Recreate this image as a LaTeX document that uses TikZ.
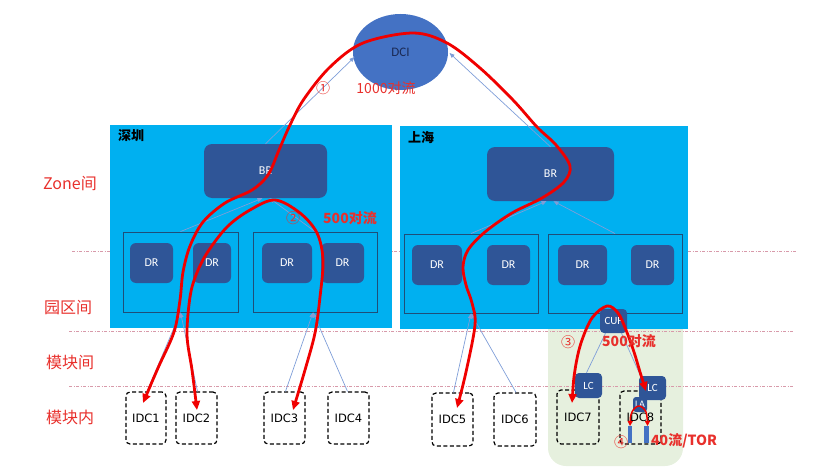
\documentclass[tikz,border=0pt]{standalone}
\usepackage{fontspec}
\setmainfont{Carlito}
\newfontfamily\cjk{Noto Sans CJK SC}
\newfontfamily\dvs{DejaVu Sans}
\usetikzlibrary{arrows.meta,shapes.geometric}
\definecolor{zoneblue}{HTML}{00B0F0}
\definecolor{darkbox}{HTML}{2F5597}
\definecolor{dciblue}{HTML}{4472C4}
\definecolor{subline}{HTML}{1F4E79}
\definecolor{greenbg}{HTML}{E6F0DE}
\definecolor{thinblue}{HTML}{7F9ED8}
\definecolor{flowred}{HTML}{F00000}
\definecolor{labelred}{HTML}{E8302C}
\definecolor{sepline}{HTML}{D89AAA}
\definecolor{navytext}{HTML}{1B2A55}
\begin{document}
\begin{tikzpicture}[x=1pt,y=-1pt,
 zonebox/.style={fill=zoneblue, inner sep=0},
 subbox/.style={draw=subline, line width=0.9pt, inner sep=0},
 router/.style={fill=darkbox, rounded corners=8pt, text=white, inner sep=0, font=\fontsize{12}{14}\selectfont},
 smallrouter/.style={fill=darkbox, rounded corners=4pt, text=white, inner sep=0, font=\fontsize{11}{13}\selectfont},
 idc/.style={draw=black, dash pattern=on 4pt off 2.5pt, line width=1.2pt, rounded corners=4pt, inner sep=0, font=\dvs\fontsize{11.5}{14}\selectfont},
 link/.style={draw=thinblue, line width=0.7pt, -{Triangle[length=5pt,width=4pt]}},
 plainlink/.style={draw=thinblue, line width=0.7pt},
 flow/.style={draw=flowred, line width=2.8pt, {Triangle[length=9pt,width=8pt]}-{Triangle[length=9pt,width=8pt]}},
 smallflow/.style={draw=flowred, line width=1.5pt, {Triangle[length=5pt,width=5pt]}-{Triangle[length=5pt,width=5pt]}},
 lbl/.style={text=labelred, inner sep=0, font=\cjk\fontsize{16}{18}\selectfont},
 flbl/.style={text=labelred, inner sep=0, font=\cjk\fontsize{14}{16}\selectfont},
 bflbl/.style={text=labelred, inner sep=0, font=\cjk\bfseries\fontsize{14}{16}\selectfont},
 zonelbl/.style={text=black, inner sep=0, font=\cjk\bfseries\fontsize{13}{15}\selectfont},
 sep/.style={draw=sepline, line width=0.8pt, dash pattern=on 3pt off 1.5pt on 1pt off 1.5pt},
 bar/.style={fill=dciblue, inner sep=0, minimum width=4.5pt, minimum height=17pt},
]
\useasboundingbox (0,0) rectangle (832,476);
% green module area
\node[fill=greenbg, rounded corners=18pt, inner sep=0, minimum width=135pt, minimum height=170pt] (green) at (615.5,381) {};
% separator lines
\coordinate (s1a) at (72,251); \coordinate (s1b) at (797,251);
\coordinate (s2a) at (69,331); \coordinate (s2b) at (793,331);
\coordinate (s3a) at (69,386); \coordinate (s3b) at (793,386);
\draw[sep] (s1a) -- (s1b);
\draw[sep] (s2a) -- (s2b);
\draw[sep] (s3a) -- (s3b);
% zones
\node[zonebox, minimum width=282pt, minimum height=203pt] (sz) at (251,226.5) {};
\node[zonebox, minimum width=288pt, minimum height=203pt] (sh) at (544,227.5) {};
\node[zonelbl] (szl) at (131,136) {深圳};
\node[zonelbl] (shlbl) at (421,138) {上海};
% BR
\node[router, minimum width=123pt, minimum height=54pt] (brsz) at (265.5,171) {BR};
\node[router, minimum width=127pt, minimum height=54pt] (brsh) at (550.5,174) {BR};
% sub boxes
\node[subbox, minimum width=115pt, minimum height=80pt] (szA) at (180.5,272) {};
\node[subbox, minimum width=124pt, minimum height=80pt] (szB) at (315,272) {};
\node[subbox, minimum width=134pt, minimum height=79pt] (shA) at (471,273.5) {};
\node[subbox, minimum width=134pt, minimum height=79pt] (shB) at (615,273.5) {};
% DR
\node[router, rounded corners=6pt, minimum width=43pt, minimum height=40pt] (dr1) at (151.5,263) {DR};
\node[router, rounded corners=6pt, minimum width=38pt, minimum height=40pt] (dr2) at (212,263) {DR};
\node[router, rounded corners=6pt, minimum width=50pt, minimum height=40pt] (dr3) at (287,263) {DR};
\node[router, rounded corners=6pt, minimum width=43pt, minimum height=40pt] (dr4) at (342.5,263) {DR};
\node[router, rounded corners=6pt, minimum width=50pt, minimum height=40pt] (dr5) at (437,265) {DR};
\node[router, rounded corners=6pt, minimum width=43pt, minimum height=40pt] (dr6) at (508.5,265) {DR};
\node[router, rounded corners=6pt, minimum width=49pt, minimum height=40pt] (dr7) at (582.5,265) {DR};
\node[router, rounded corners=6pt, minimum width=43pt, minimum height=40pt] (dr8) at (652.5,265) {DR};
% DCI
\node[ellipse, fill=dciblue, inner sep=0, minimum width=95pt, minimum height=76pt, text=navytext, font=\fontsize{13}{15}\selectfont] (dci) at (400.5,52) {DCI};
% IDC boxes
\node[idc, minimum width=40pt, minimum height=52pt] (idc1) at (146,418) {IDC1};
\node[idc, minimum width=41pt, minimum height=52pt] (idc2) at (196.5,418) {IDC2};
\node[idc, minimum width=41pt, minimum height=52pt] (idc3) at (284.5,418) {IDC3};
\node[idc, minimum width=41pt, minimum height=52pt] (idc4) at (348.5,418) {IDC4};
\node[idc, minimum width=41pt, minimum height=53pt] (idc5) at (452.5,419.5) {IDC5};
\node[idc, minimum width=42pt, minimum height=53pt] (idc6) at (515,419.5) {IDC6};
\node[idc, minimum width=42pt, minimum height=54pt] (idc7) at (578,417) {IDC7};
\node[idc, minimum width=41pt, minimum height=53pt] (idc8) at (640.5,417.5) {IDC8};
% CUF, LC, LA
\node[smallrouter, minimum width=27pt, minimum height=24pt] (cuf) at (613.5,321) {CUF};
\node[smallrouter, minimum width=27pt, minimum height=25pt] (lc1) at (588.5,385.5) {LC};
\node[smallrouter, minimum width=27pt, minimum height=24pt] (lc2) at (652.5,388) {LC};
\node[smallrouter, rounded corners=3pt, minimum width=14pt, minimum height=15pt, font=\fontsize{10}{12}\selectfont] (la) at (640,404.5) {LA};
\node[bar] (bar1) at (629.8,434.5) {};
\node[bar] (bar2) at (646.5,434.5) {};
% thin links
\draw[link] (brsz.north) -- ([xshift=-46pt,yshift=-5pt]dci.center);
\draw[link] (brsh.north) -- ([xshift=49pt,yshift=-1pt]dci.center);
\draw[link] (szA.north) -- ([xshift=-3pt]brsz.south);
\draw[link] (szB.north) -- ([xshift=4pt]brsz.south);
\draw[link] (shA.north) -- ([xshift=-4pt]brsh.south);
\draw[link] (shB.north) -- ([xshift=3pt]brsh.south);
\draw[link] ([xshift=1pt]idc1.north) -- (szA.south);
\draw[link] ([xshift=1pt]idc2.north) -- (szA.south);
\draw[link] ([xshift=1pt]idc3.north) -- ([xshift=-2pt]szB.south);
\draw[link] ([xshift=-1pt]idc4.north) -- ([xshift=-2pt]szB.south);
\draw[link] ([xshift=1pt]idc5.north) -- (shA.south);
\draw[link] ([xshift=1pt]idc6.north) -- (shA.south);
\draw[plainlink] ([xshift=-2pt]lc1.north) -- ([xshift=-8pt]cuf.south);
\draw[plainlink] ([xshift=-12pt]lc2.north) -- ([xshift=8pt]cuf.south);
% red flows
\coordinate (f1a) at (143,403); \coordinate (f1b) at (457,408);
\coordinate (f2a) at (197,410); \coordinate (f2b) at (293,410);
\coordinate (f3a) at (572,403); \coordinate (f3b) at (646,391);
\coordinate (f4a) at (630,426); \coordinate (f4b) at (647.5,426);
\draw[flow] plot[smooth, tension=0.55] coordinates {(f1a) (158,368) (174,332) (180,300) (183,272) (190,246) (203,222) (225,203) (252,190) (268,175) (279,150) (290,125) (304,99) (330,67) (363,43) (413,33) (447,43) (480,68) (513,100) (537,127) (556,145) (570,166) (564,182) (542,198) (512,213) (485,232) (468,250) (463,267) (466,285) (472,303) (475,325) (466,372) (f1b)};
\draw[flow] plot[smooth, tension=0.55] coordinates {(f2a) (192,370) (187,335) (190,297) (196,275) (207,253) (227,227) (250,210) (275,200) (300,213) (317,233) (323,260) (320,297) (315,333) (305,370) (f2b)};
\draw[flow] plot[smooth, tension=0.55] coordinates {(f3a) (575,370) (581,343) (592,318) (607,306) (618,313) (626,330) (634,352) (640,372) (f3b)};
\draw[smallflow] plot[smooth, tension=0.6] coordinates {(f4a) (632,412) (639,406) (646,412) (f4b)};
% left labels
\node[lbl] (lz) at (70,184) {Zone间};
\node[lbl] (lp) at (68,308) {园区间};
\node[lbl] (lm) at (70,362) {模块间};
\node[lbl] (li) at (70,417) {模块内};
% flow labels
\node[flbl] (n1) at (323,88) {①};
\node[flbl] (t1) at (386,88) {1000对流};
\node[flbl] (n2) at (293,218) {②};
\node[bflbl] (t2) at (350,218) {500对流};
\node[flbl] (n3) at (568,342) {③};
\node[bflbl] (t3) at (629,341) {500对流};
\node[flbl] (n4) at (621,442) {④};
\node[bflbl, anchor=west] (t4) at (651,441) {40流/TOR};
\end{tikzpicture}
\end{document}
